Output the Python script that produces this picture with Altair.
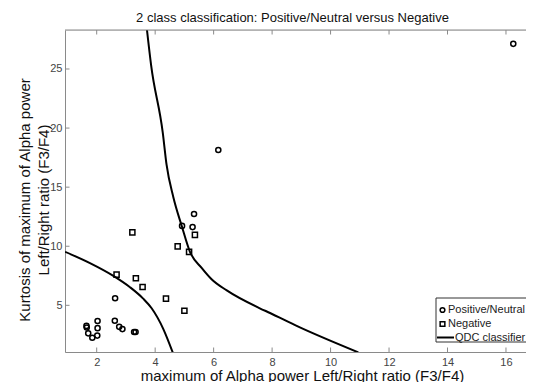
import altair as alt
import pandas as pd

# ---------------- data ----------------
pos_x = [1.65, 1.66, 1.71, 1.85, 2.02, 2.03, 2.03, 2.62, 2.63, 2.77, 2.88, 3.28, 3.33,
         4.92, 5.28, 5.33, 6.16, 16.25]
pos_y = [3.26, 3.12, 2.63, 2.25, 2.44, 3.07, 3.67, 3.69, 5.60, 3.18, 2.99, 2.74, 2.74,
         11.72, 11.62, 12.73, 18.15, 27.13]

neg_x = [3.22, 2.68, 3.34, 3.57, 4.37, 5.00, 4.77, 5.16, 5.36]
neg_y = [11.17, 7.60, 7.29, 6.55, 5.57, 4.54, 9.99, 9.52, 10.96]

qdc_upper_x = [3.72, 3.86, 4.26, 4.39, 4.62, 4.91, 5.19, 5.59, 5.93, 6.45, 7.58, 7.93, 8.84, 10.95]
qdc_upper_y = [28.3, 25.35, 19.62, 16.9, 14.17, 11.71, 9.53, 8.17, 7.21, 6.26, 4.75, 4.35, 3.26, 1.02]
qdc_lower_x = [0.92, 1.77, 2.57, 3.14, 3.59, 3.88, 4.28, 4.60]
qdc_lower_y = [9.53, 8.57, 7.49, 6.53, 5.57, 4.75, 2.99, 1.02]

x_ticks = [2, 4, 6, 8, 10, 12, 14, 16]
y_ticks = [5, 10, 15, 20, 25]

legend_labels = ["Positive/Neutral", "Negative", "QDC classifier"]

title_text = "2 class classification: Positive/Neutral versus Negative"
x_title = "maximum of Alpha power Left/Right ratio (F3/F4)"
y_title = ["Kurtosis of maximum of Alpha power", "Left/Right ratio (F3/F4)"]

# ---------------- layout ----------------
W, H = 461, 322
FONT = "Liberation Sans"
FRAME = "#8a8a8a"
LABEL = "#444444"
X_DOM = [0.916, 16.685]
Y_DOM = [1.05, 28.3]

xs = alt.Scale(domain=X_DOM, nice=False, zero=False)
ys = alt.Scale(domain=Y_DOM, nice=False, zero=False)

pos_df = pd.DataFrame({"x": pos_x, "y": pos_y})
neg_df = pd.DataFrame({"x": neg_x, "y": neg_y})
qdc_df = pd.concat([
    pd.DataFrame({"x": qdc_upper_x, "y": qdc_upper_y, "branch": "upper",
                  "o": range(len(qdc_upper_x))}),
    pd.DataFrame({"x": qdc_lower_x, "y": qdc_lower_y, "branch": "lower",
                  "o": range(len(qdc_lower_x))}),
])

common_axis = dict(grid=False, ticks=False, domainColor=FRAME, labelColor=LABEL,
                   labelFontSize=11, labelFont=FONT, titleFont=FONT, titleFontSize=15,
                   titleFontWeight="normal", titleColor="#111")
x_axis = alt.Axis(values=x_ticks, title=x_title, titleX=237, titleY=28, labelPadding=4,
                  titleBaseline="alphabetic", titleAlign="center", **common_axis)
y_axis = alt.Axis(values=y_ticks, title=None, labelPadding=3, **common_axis)

pos = alt.Chart(pos_df).mark_point(shape="circle", filled=False, color="black",
                                   strokeWidth=1.5, size=26, opacity=1).encode(
    x=alt.X("x:Q", scale=xs, axis=x_axis),
    y=alt.Y("y:Q", scale=ys, axis=y_axis),
)
neg = alt.Chart(neg_df).mark_point(shape="square", filled=False, color="black",
                                   strokeWidth=1.5, size=26, opacity=1).encode(
    x=alt.X("x:Q", scale=xs),
    y=alt.Y("y:Q", scale=ys),
)
qdc = alt.Chart(qdc_df).mark_line(color="black", strokeWidth=2, clip=True,
                                  interpolate="monotone").encode(
    x=alt.X("x:Q", scale=xs),
    y=alt.Y("y:Q", scale=ys),
    detail="branch:N",
    order="o:Q",
)

# inward ticks (MATLAB style) and top frame line
xt_df = pd.DataFrame({"x": x_ticks})
yt_df = pd.DataFrame({"y": y_ticks})
bottom_ticks = alt.Chart(xt_df).mark_rule(color=FRAME, strokeWidth=1).encode(
    x=alt.X("x:Q", scale=xs), y=alt.value(H), y2=alt.value(H - 4.5))
top_ticks = alt.Chart(xt_df).mark_rule(color=FRAME, strokeWidth=1).encode(
    x=alt.X("x:Q", scale=xs), y=alt.value(0), y2=alt.value(4.5))
left_ticks = alt.Chart(yt_df).mark_rule(color=FRAME, strokeWidth=1).encode(
    y=alt.Y("y:Q", scale=ys), x=alt.value(0), x2=alt.value(4.5))
one = pd.DataFrame({"k": [0]})
top_frame = alt.Chart(one).mark_rect(fill=FRAME).encode(
    x=alt.value(0), x2=alt.value(W), y=alt.value(-0.5), y2=alt.value(0.5))

# two-line rotated y-axis title
def y_title_line(i, dx):
    return alt.Chart(one).mark_text(
        angle=270, align="center", baseline="middle", font=FONT, fontSize=15,
        color="#111").encode(text=alt.value(y_title[i]), x=alt.value(dx), y=alt.value(170))

# legend box (clipped at the right edge, like the reference)
LX, LT, LB = 371, 268, 312
leg_box = alt.Chart(one).mark_rect(fill="white", stroke="#333", strokeWidth=1).encode(
    x=alt.value(LX), x2=alt.value(W + 20), y=alt.value(LT), y2=alt.value(LB))
leg_circle = alt.Chart(one).mark_point(
    shape="circle", filled=False, color="black", strokeWidth=1.5, size=22, opacity=1).encode(
    x=alt.value(LX + 6.5), y=alt.value(LT + 12))
leg_square = alt.Chart(one).mark_point(
    shape="square", filled=False, color="black", strokeWidth=1.5, size=22, opacity=1).encode(
    x=alt.value(LX + 6.5), y=alt.value(LT + 26))
leg_line = alt.Chart(one).mark_rect(fill="black").encode(
    x=alt.value(LX + 1), x2=alt.value(LX + 18), y=alt.value(LT + 38.5), y2=alt.value(LT + 40.5))


def leg_label(i, dx, dy):
    return alt.Chart(one).mark_text(
        align="left", baseline="middle", font=FONT, fontSize=11, color="#222").encode(
        text=alt.value(legend_labels[i]), x=alt.value(LX + dx), y=alt.value(LT + dy))


chart = alt.layer(
    pos, neg, qdc, top_frame, bottom_ticks, top_ticks, left_ticks,
    y_title_line(0, -40), y_title_line(1, -21),
    leg_box, leg_circle, leg_square, leg_line,
    leg_label(0, 12, 12), leg_label(1, 12, 26), leg_label(2, 19, 39.5),
).properties(
    width=W, height=H,
    title=alt.TitleParams(title_text, font=FONT, fontSize=13, fontWeight="normal",
                          color="#111", anchor="middle", offset=5, dx=-3),
    autosize=alt.AutoSizeParams(type="none"),
    padding={"left": 57, "top": 22, "right": 0, "bottom": 30},
).configure_view(stroke=None).configure(background="white")

chart.save("out.html", embed_options={"renderer": "svg", "actions": False})
